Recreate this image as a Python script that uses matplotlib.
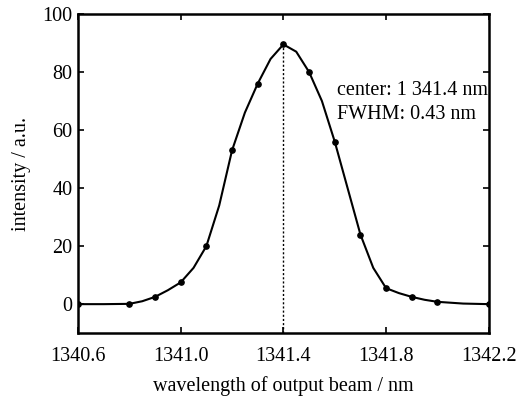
import matplotlib
matplotlib.use('Agg')
import matplotlib.pyplot as plt

plt.rcParams['font.family'] = ['Liberation Serif', 'DejaVu Serif']

# measured points
wavelength = [1340.6, 1340.8, 1340.9, 1341.0, 1341.1, 1341.2, 1341.3, 1341.4,
              1341.5, 1341.6, 1341.7, 1341.8, 1341.9, 1342.0, 1342.2]
intensity = [0, 0, 2.5, 7.5, 20, 53, 76, 89.5, 80, 56, 24, 5.5, 2.5, 0.8, 0]

# fitted curve
fit_wl = [1340.6, 1340.7, 1340.8, 1340.85, 1340.9, 1340.95, 1341.0, 1341.05,
          1341.1, 1341.15, 1341.2, 1341.25, 1341.3, 1341.35, 1341.4, 1341.45,
          1341.5, 1341.55, 1341.6, 1341.65, 1341.7, 1341.75, 1341.8, 1341.85,
          1341.9, 1341.95, 1342.0, 1342.1, 1342.2]
fit_int = [0, 0, 0.1, 1.0, 2.5, 4.8, 7.5, 12.5,
           20, 34, 53, 66, 76, 84.5, 89.5, 87,
           80, 70, 56, 40, 24, 12.5, 5.5, 3.8,
           2.5, 1.5, 0.8, 0.2, 0]

center = 1341.4
peak = 89.5

fig = plt.figure(figsize=(5.2, 3.99), dpi=100)
ax = fig.add_axes([0.15, 0.165, 0.79, 0.80])

ax.plot(fit_wl, fit_int, color='black', lw=1.5)
ax.plot(wavelength, intensity, 'o', color='black', ms=3.8)
ax.plot([center, center], [-10, peak], color='black', lw=1, ls=(0, (1.5, 1.5)))

ax.text(1341.61, 73.5, 'center: 1 341.4 nm', fontsize=14.5, va='center')
ax.text(1341.61, 65.5, 'FWHM: 0.43 nm', fontsize=14.5, va='center')

ax.set_xlim(1340.6, 1342.2)
ax.set_ylim(-10, 100)
ax.set_xticks([1340.6, 1341.0, 1341.4, 1341.8, 1342.2])
ax.set_xticklabels(['1340.6', '1341.0', '1341.4', '1341.8', '1342.2'])
ax.set_yticks([0, 20, 40, 60, 80, 100])
ax.tick_params(direction='in', top=True, right=True, length=4, width=1.2,
               labelsize=14.5)
ax.tick_params(axis='x', pad=10)
ax.tick_params(axis='y', pad=4)
for s in ax.spines.values():
    s.set_linewidth(1.8)

ax.set_xlabel('wavelength of output beam / nm', fontsize=14.5, labelpad=7)
ax.set_ylabel('intensity / a.u.', fontsize=14.5, labelpad=8)

fig.savefig('out.png', dpi=100)
